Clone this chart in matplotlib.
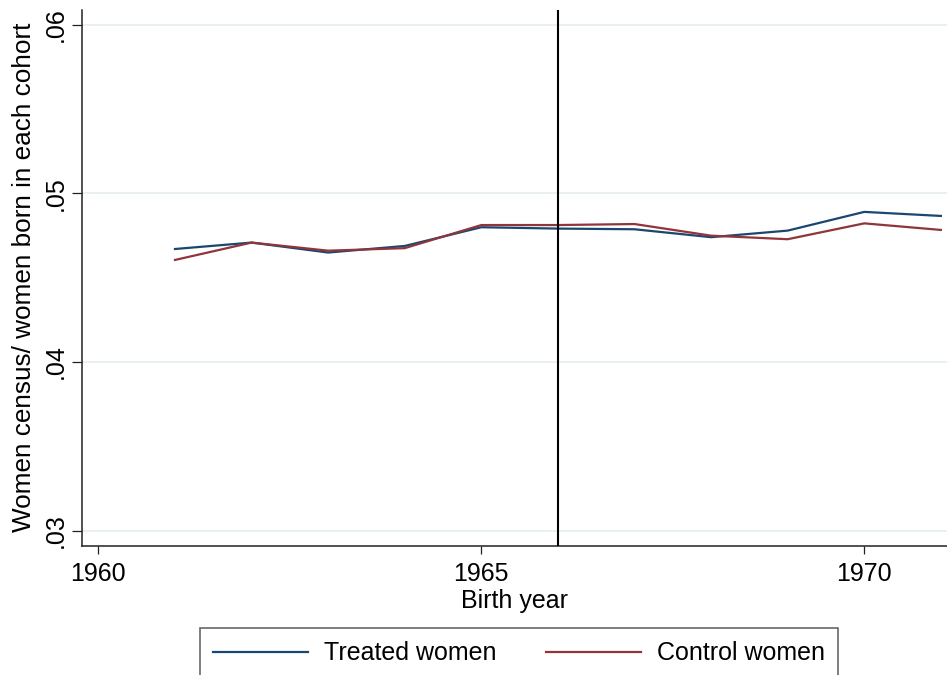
import matplotlib
matplotlib.use("Agg")
import matplotlib.pyplot as plt

plt.rcParams['font.family'] = ['Liberation Sans', 'DejaVu Sans']

# Cohort shares by birth year
birth_years = [1961, 1962, 1963, 1964, 1965, 1966, 1967, 1968, 1969, 1970, 1971]
treated_women = [0.0467, 0.04708, 0.04649, 0.04688, 0.04799, 0.04791,
                 0.04787, 0.0474, 0.04779, 0.0489, 0.04866]
control_women = [0.04605, 0.04708, 0.0466, 0.04675, 0.04812, 0.04812,
                 0.04818, 0.04749, 0.04728, 0.04822, 0.04783]
x_ticks = [1960, 1965, 1970]
y_ticks = [0.03, 0.04, 0.05, 0.06]
y_tick_labels = ['.03', '.04', '.05', '.06']
reform_year = 1966

W, H = 947, 675
fig = plt.figure(figsize=(W / 100, H / 100), dpi=100)
left, right, bottom, top = 82.3, 947, 546, 9.5
ax = fig.add_axes([left / W, (H - bottom) / H, (right - left) / W, (bottom - top) / H])

navy = '#1a476f'
maroon = '#90353b'
fs = 18

for y in y_ticks:
    ax.axhline(y, color='#e9f0f2', lw=1.4, zorder=0)

ax.plot(birth_years, treated_women, color=navy, lw=1.6, label='Treated women', zorder=3)
ax.plot(birth_years, control_women, color=maroon, lw=1.6, label='Control women', zorder=3)
ax.axvline(reform_year, color='black', lw=1.5, zorder=4)

ax.set_xlim(1959.79, 1971.08)
ax.set_ylim(0.02909, 0.0609)

ax.set_xticks(x_ticks)
ax.set_xticklabels([str(t) for t in x_ticks], fontsize=fs)
ax.set_yticks(y_ticks)
ax.set_yticklabels(y_tick_labels, fontsize=fs, rotation=90, va='center')

ax.tick_params(axis='x', direction='out', length=5.8, width=0.9, color='#222222', pad=6)
ax.tick_params(axis='y', direction='out', length=7.2, width=0.9, color='#222222', pad=3.5)

for side in ['top', 'right']:
    ax.spines[side].set_visible(False)
for side in ['left', 'bottom']:
    ax.spines[side].set_color('#222222')
    ax.spines[side].set_linewidth(1.1)

ax.set_xlabel('Birth year', fontsize=fs, labelpad=2)
ax.set_ylabel('Women census/ women born in each cohort', fontsize=18.8, labelpad=5)

leg = fig.legend(loc='upper center', bbox_to_anchor=(519 / W, (H - 628.3) / H),
                 ncol=2, fontsize=fs, frameon=True, fancybox=False,
                 edgecolor='#333333', borderpad=0.52, borderaxespad=0,
                 handlelength=3.8, handletextpad=0.67, columnspacing=1.95)
leg.get_frame().set_linewidth(1.1)

fig.savefig('out.png', dpi=100, facecolor='white')
